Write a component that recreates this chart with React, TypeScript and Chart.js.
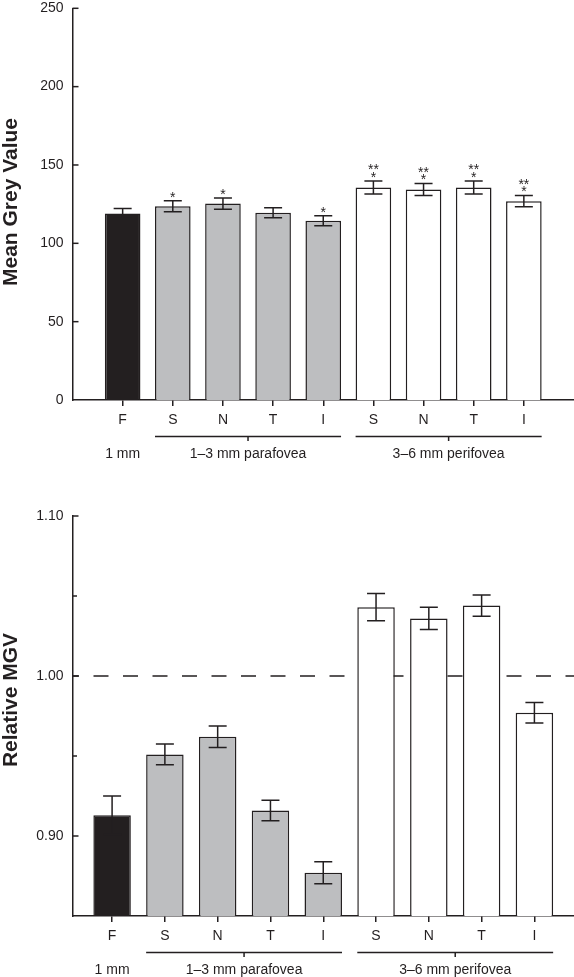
import React, { useEffect, useRef } from 'react';
import { Chart, registerables } from 'chart.js';

Chart.register(...registerables);

// ---------- data ----------
const categories = ['F', 'S', 'N', 'T', 'I', 'S', 'N', 'T', 'I'];
const categoryGroup = [0, 1, 1, 1, 1, 2, 2, 2, 2];
const groupNames = ['1 mm', '1–3 mm parafovea', '3–6 mm perifovea'];
const groupFills = ['#231f20', '#bdbec0', '#ffffff'];

const mgvMean = [119.1, 123.7, 125.4, 119.5, 114.4, 135.6, 134.4, 135.6, 126.9];
const mgvSem = [3.1, 3.5, 3.6, 3.2, 3.2, 4.1, 3.8, 4.1, 3.6];
const mgvStars = [[], ['*'], ['*'], [], ['*'], ['*', '**'], ['*', '**'], ['*', '**'], ['*', '**']];
const mgvTicks = [0, 50, 100, 150, 200, 250];
const mgvLabelled = [0, 50, 100, 150, 200, 250];

const relMean = [0.913, 0.951, 0.962, 0.916, 0.877, 1.043, 1.036, 1.044, 0.977];
const relSem = [0.012, 0.0065, 0.0067, 0.0064, 0.0069, 0.0085, 0.0069, 0.0067, 0.0064];
const relStars: string[][] = [[], [], [], [], [], [], [], [], []];
const relTicks = [0.85, 0.9, 0.95, 1.0, 1.05, 1.1];
const relLabelled = [0.9, 1.0, 1.1];
const relReference = 1.0;

// ---------- styling ----------
const FONT = "'Liberation Sans', Arial, Helvetica, sans-serif";
const INK = '#231f20';

type Panel = {
  width: number;
  height: number;
  means: number[];
  sems: number[];
  stars: string[][];
  yMin: number;
  yMax: number;
  yTicks: number[];
  yLabelled: number[];
  yDecimals: number;
  xMin: number;
  xMax: number;
  title: string;
  titleCenterY: number;
  padTop: number;
  xAxisHeight: number;
  refLine?: number;
};

function buildChart(canvas: HTMLCanvasElement, p: Panel) {
  const tickFont = { family: FONT, size: 14 };
  const isLabelled = (v: number) => p.yLabelled.some((l) => Math.abs(l - v) < 1e-9);

  const decor = {
    id: 'decor',
    beforeDatasetsDraw(chart: any) {
      if (p.refLine === undefined) return;
      const { ctx, chartArea: a, scales } = chart;
      const y = scales.y.getPixelForValue(p.refLine);
      ctx.save();
      ctx.strokeStyle = INK;
      ctx.lineWidth = 1.5;
      ctx.setLineDash([15, 14.5]);
      ctx.lineDashOffset = 8.5;
      ctx.beginPath();
      ctx.moveTo(a.left, y);
      ctx.lineTo(a.right, y);
      ctx.stroke();
      ctx.restore();
    },
    afterDatasetsDraw(chart: any) {
      const { ctx, scales } = chart;
      ctx.save();
      ctx.strokeStyle = INK;
      ctx.fillStyle = INK;
      ctx.lineWidth = 1.5;
      ctx.font = `14px ${FONT}`;
      ctx.textAlign = 'center';
      ctx.textBaseline = 'alphabetic';
      p.means.forEach((m, i) => {
        const x = scales.x.getPixelForValue(i + 1);
        const yTop = scales.y.getPixelForValue(m + p.sems[i]);
        const yBot = scales.y.getPixelForValue(m - p.sems[i]);
        ctx.beginPath();
        ctx.moveTo(x, yTop);
        ctx.lineTo(x, yBot);
        ctx.moveTo(x - 9, yTop);
        ctx.lineTo(x + 9, yTop);
        ctx.moveTo(x - 9, yBot);
        ctx.lineTo(x + 9, yBot);
        ctx.stroke();
        (p.stars[i] || []).forEach((s, k) => {
          const cy = yTop - 7.5 - 7.5 * k;
          ctx.fillText(s, x, cy + 8.3);
        });
      });
      ctx.restore();
    },
    afterDraw(chart: any) {
      const { ctx, chartArea: a, scales } = chart;
      ctx.save();
      ctx.strokeStyle = INK;
      ctx.fillStyle = INK;
      ctx.lineWidth = 1.5;
      // inward y ticks
      p.yTicks.forEach((v) => {
        if (Math.abs(v - p.yMin) < 1e-9) return;
        const y = scales.y.getPixelForValue(v);
        const len = isLabelled(v) ? 6 : 4.5;
        ctx.beginPath();
        ctx.moveTo(a.left, y);
        ctx.lineTo(a.left + len, y);
        ctx.stroke();
      });
      // group brackets and names
      const bars = chart.getDatasetMeta(0).data;
      ctx.font = `14px ${FONT}`;
      ctx.textAlign = 'center';
      ctx.textBaseline = 'middle';
      groupNames.forEach((name, g) => {
        const idx = categoryGroup.map((gg, i) => (gg === g ? i : -1)).filter((i) => i >= 0);
        const first = bars[idx[0]];
        const last = bars[idx[idx.length - 1]];
        const left = first.x - first.width / 2;
        const right = last.x + last.width / 2;
        const cx = (left + right) / 2;
        if (idx.length > 1) {
          const ly = a.bottom + 36.5;
          ctx.beginPath();
          ctx.moveTo(left, ly);
          ctx.lineTo(right, ly);
          ctx.moveTo(cx, ly);
          ctx.lineTo(cx, ly + 4.5);
          ctx.stroke();
        }
        ctx.fillText(name, cx, a.bottom + 54.5);
      });
      // y title
      ctx.font = `bold 21px ${FONT}`;
      ctx.textBaseline = 'alphabetic';
      ctx.translate(16.7, p.titleCenterY);
      ctx.rotate(-Math.PI / 2);
      ctx.fillText(p.title, 0, 0);
      ctx.restore();
    },
  };

  return new Chart(canvas, {
    type: 'bar',
    data: {
      datasets: [
        {
          data: p.means.map((m, i) => ({ x: i + 1, y: m })),
          backgroundColor: categoryGroup.map((g) => groupFills[g]),
          borderColor: INK,
          borderWidth: 1.5,
          borderSkipped: 'bottom',
          barPercentage: 0.71,
          categoryPercentage: 1,
        } as any,
      ],
    },
    options: {
      animation: false,
      responsive: false,
      events: [],
      layout: { padding: { top: p.padTop, right: 0, bottom: 0, left: 0 } },
      plugins: { legend: { display: false }, tooltip: { enabled: false } },
      scales: {
        x: {
          type: 'linear',
          offset: false,
          min: p.xMin,
          max: p.xMax,
          afterBuildTicks: (s: any) => {
            s.ticks = categories.map((_, i) => ({ value: i + 1 }));
          },
          ticks: {
            callback: (_v: any, i: number) => categories[i] ?? '',
            font: tickFont,
            color: INK,
            padding: 6,
            maxRotation: 0,
            autoSkip: false,
          },
          grid: {
            display: true,
            offset: false,
            drawOnChartArea: false,
            drawTicks: true,
            tickLength: 6,
            tickWidth: 1.5,
            tickColor: INK,
            color: INK,
            lineWidth: 1.5,
          },
          border: { display: true, color: INK, width: 1.5 },
          afterFit: (s: any) => {
            s.height = p.xAxisHeight;
            s.paddingLeft = 0;
            s.paddingRight = 0;
          },
        } as any,
        y: {
          type: 'linear',
          min: p.yMin,
          max: p.yMax,
          afterBuildTicks: (s: any) => {
            s.ticks = p.yTicks.map((v) => ({ value: v }));
          },
          ticks: {
            callback: (v: any) => (isLabelled(Number(v)) ? Number(v).toFixed(p.yDecimals) : ''),
            font: tickFont,
            color: INK,
            padding: 9,
            autoSkip: false,
          },
          grid: { display: false, drawTicks: false },
          border: { display: true, color: INK, width: 1.5 },
          afterFit: (s: any) => {
            s.width = 72.5;
            s.paddingTop = 0;
            s.paddingBottom = 0;
          },
        } as any,
      },
    } as any,
    plugins: [decor],
  });
}

const topPanel: Panel = {
  width: 574,
  height: 470,
  means: mgvMean,
  sems: mgvSem,
  stars: mgvStars,
  yMin: 0,
  yMax: 250,
  yTicks: mgvTicks,
  yLabelled: mgvLabelled,
  yDecimals: 0,
  xMin: 0,
  xMax: 10,
  title: 'Mean Grey Value',
  titleCenterY: 202,
  padTop: 8.3,
  xAxisHeight: 70,
};

const bottomPanel: Panel = {
  width: 574,
  height: 507,
  means: relMean,
  sems: relSem,
  stars: relStars,
  yMin: 0.85,
  yMax: 1.1,
  yTicks: relTicks,
  yLabelled: relLabelled,
  yDecimals: 2,
  xMin: 0.25,
  xMax: 9.75,
  title: 'Relative MGV',
  titleCenterY: 230,
  padTop: 46,
  xAxisHeight: 61,
  refLine: relReference,
};

function BarPanel({ panel, top }: { panel: Panel; top: number }) {
  const ref = useRef<HTMLCanvasElement | null>(null);
  useEffect(() => {
    if (!ref.current) return;
    const chart = buildChart(ref.current, panel);
    return () => chart.destroy();
  }, [panel]);
  return (
    <canvas
      ref={ref}
      width={panel.width}
      height={panel.height}
      style={{ position: 'absolute', left: 0, top, width: panel.width, height: panel.height, display: 'block' }}
    />
  );
}

export default function App() {
  return (
    <div style={{ position: 'absolute', left: 0, top: 0, width: 574, height: 977, background: '#ffffff' }}>
      <BarPanel panel={topPanel} top={0} />
      <BarPanel panel={bottomPanel} top={470} />
    </div>
  );
}
